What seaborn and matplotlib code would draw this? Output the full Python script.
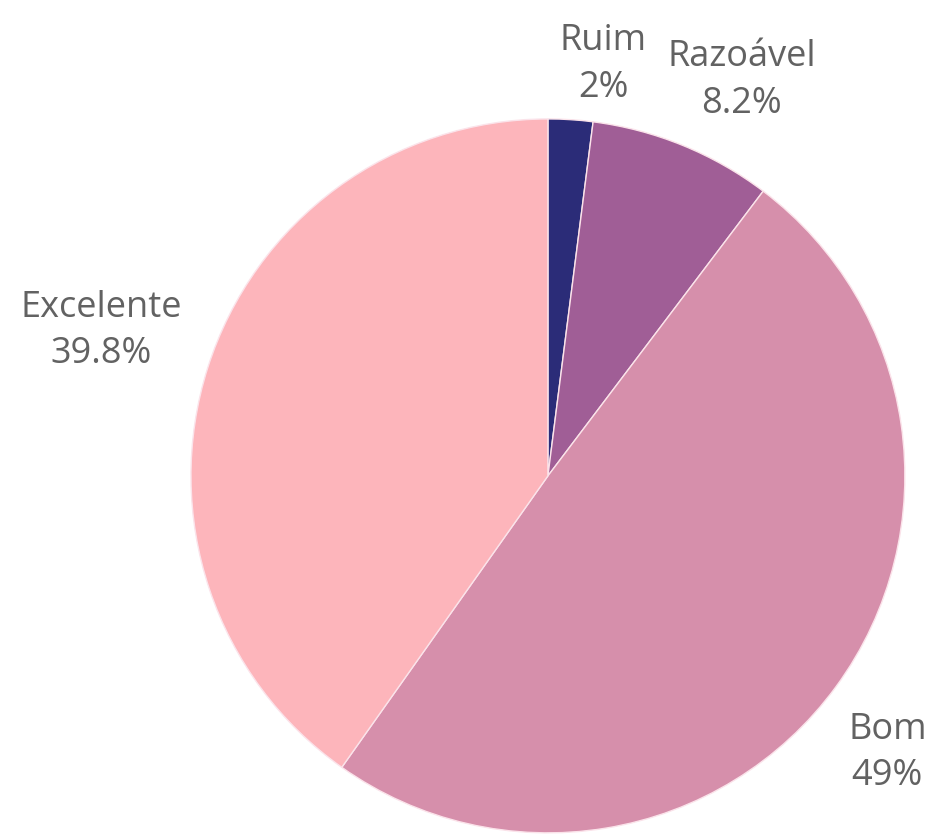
import matplotlib
matplotlib.use("Agg")
import matplotlib.pyplot as plt
import numpy as np
import seaborn as sns

categories = ["Ruim", "Razoável", "Bom", "Excelente"]
values = [2.0, 8.2, 49.0, 39.8]
value_labels = ["2%", "8.2%", "49%", "39.8%"]
colors = ["#2b2c78", "#a05e96", "#d68fab", "#fdb5bb"]
label_dist = [1.16, 1.23, 1.23, 1.34]
# small nudges (pixels) so the outside labels sit where the reference puts them
label_nudge = [(29, -2), (28, -11), (-15, -18), (9, 0)]

sns.set_theme(style="white")
plt.rcParams["font.family"] = ["Open Sans", "DejaVu Sans"]

fig = plt.figure(figsize=(9.32, 8.34), dpi=100)
ax = fig.add_axes([0, 0, 1, 1])

wedges, _ = ax.pie(
    values,
    colors=colors,
    startangle=90,
    counterclock=False,
    radius=1,
    wedgeprops={"edgecolor": "#fbe3ea", "linewidth": 1.0},
)

for w, cat, lab, d, nudge in zip(wedges, categories, value_labels, label_dist, label_nudge):
    mid = np.deg2rad((w.theta1 + w.theta2) / 2)
    ax.annotate(
        f"{cat}\n{lab}",
        xy=(d * np.cos(mid), d * np.sin(mid)),
        xytext=nudge,
        textcoords="offset pixels",
        ha="center",
        va="center",
        fontsize=26,
        color="#626262",
        linespacing=1.4,
    )

ax.set_xlim(-1.535, 1.076)
ax.set_ylim(-1.003, 1.333)
ax.set_aspect("equal")
ax.axis("off")

fig.savefig("out.png", dpi=100, facecolor="white")
